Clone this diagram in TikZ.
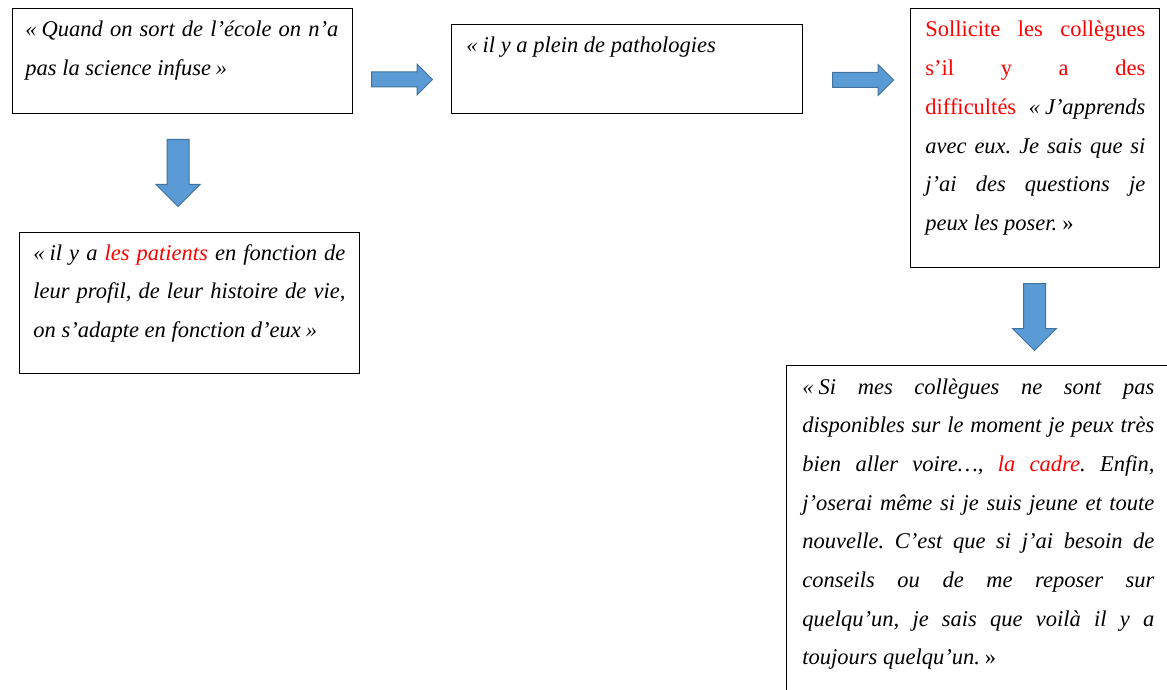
\documentclass[tikz,border=0pt]{standalone}
\usepackage{fontspec}
\setmainfont{Liberation Serif}
\usetikzlibrary{shapes.arrows,positioning}
\definecolor{arrowfill}{HTML}{5B9BD5}
\definecolor{arrowedge}{HTML}{41719C}
\newcommand\boxfont{\fontsize{11.25}{19.35}\selectfont}
\newcommand\ouv{«\kern2.5pt}
\newcommand\ferm{\kern2.5pt»}
\hbadness=10000
\frenchspacing

\begin{document}
\begin{tikzpicture}[x=0.5pt,y=-0.5pt,font=\boxfont,
 box/.style={draw,line width=0.5pt,anchor=north west,inner sep=0pt},
 quote/.style={anchor=base west,inner sep=0pt,align=justify,font=\boxfont\itshape},
 harrow/.style={single arrow,draw=arrowedge,fill=arrowfill,line width=0.5pt,inner sep=3.5pt,
  single arrow head extend=4pt,minimum height=30.5pt,anchor=tail},
 varrow/.style={harrow,shape border rotate=270,inner sep=5.25pt,
  single arrow head extend=5.5pt,minimum height=33.5pt}]
\useasboundingbox (0,0) rectangle (1167,690);
\clip (0,0) rectangle (1167,690);
% boxes
\node[box,minimum width=170pt,minimum height=52.5pt] (ecole) at (12,8) {};
\node[box,minimum width=175.5pt,minimum height=44.5pt] (patho) at (451,24) {};
\node[box,minimum width=124.5pt,minimum height=129.5pt] (collegues) at (910,8) {};
\node[box,minimum width=170pt,minimum height=70.5pt] (patients) at (19,232) {};
\node[box,minimum width=194.5pt,minimum height=167.5pt] (cadre) at (786,365) {};
% quotes
\node[quote,text width=156.5pt] (ecoleq) at ([shift={(13,29)}]ecole.north west)
 {\ouv Quand on sort de l’école on n’a\linebreak pas la science infuse\ferm};
\node[quote,text width=160pt] (pathoq) at ([shift={(15,29)}]patho.north west)
 {\ouv il y a plein de pathologies};
\node[quote,text width=110pt] (colleguesq) at ([shift={(15,29)}]collegues.north west)
 {{\upshape\color{red}Sollicite les collègues\linebreak s’il y a des\linebreak difficultés}
 \ouv J’apprends\linebreak avec eux. Je sais que si\linebreak j’ai des questions je\linebreak
 peux les poser.\kern2.5pt{\upshape»}};
\node[quote,text width=156pt] (patientsq) at ([shift={(14,28)}]patients.north west)
 {\ouv il y a {\color{red}les patients} en fonction de\linebreak leur profil, de leur histoire
 de vie,\linebreak on s’adapte en fonction d’eux\ferm};
\node[quote,text width=176pt] (cadreq) at ([shift={(16,29)}]cadre.north west)
 {\ouv Si mes collègues ne sont pas\linebreak disponibles sur le moment je peux très\linebreak
 bien aller voire…, {\color{red}la cadre}. Enfin,\linebreak j’oserai même si je suis jeune
 et toute\linebreak nouvelle. C’est que si j’ai besoin de\linebreak conseils ou de me
 reposer sur\linebreak quelqu’un, je sais que voilà il y a\linebreak toujours
 quelqu’un.\kern2.5pt{\upshape»}};
% arrows
\node[harrow] (toPatho) at (371,79.5) {};
\node[harrow] (toCollegues) at (832,80) {};
\node[varrow] (toPatients) at (178,139) {};
\node[varrow] (toCadre) at (1034.5,283) {};
\end{tikzpicture}
\end{document}
